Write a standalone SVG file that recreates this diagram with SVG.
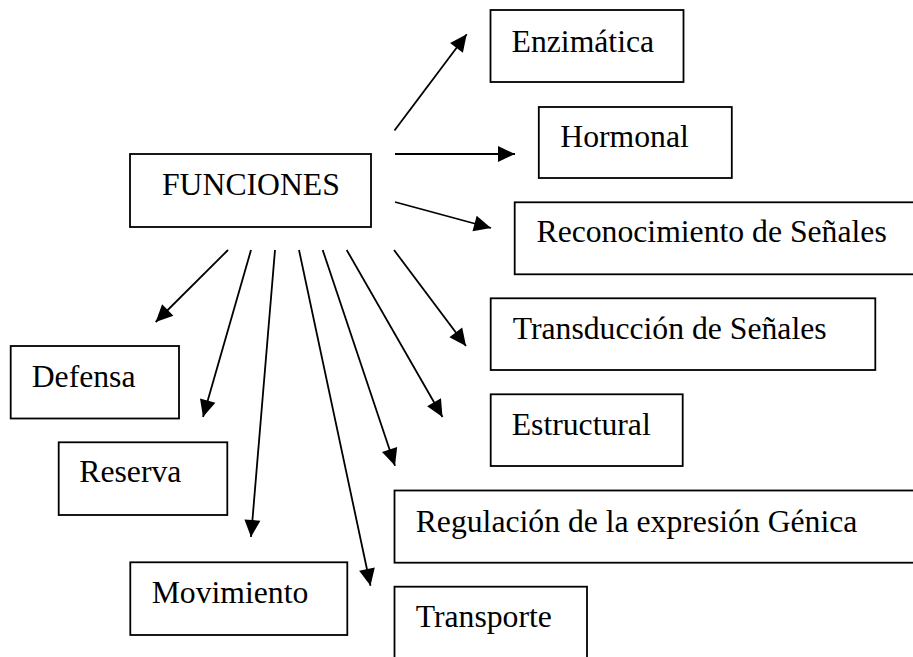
<svg xmlns="http://www.w3.org/2000/svg" width="913" height="657" viewBox="0 0 913 657">
<style>
.box{fill:#fff;stroke:#000;stroke-width:1.8}
.lbl{font-family:"Liberation Serif","Times New Roman",serif;font-size:31.7px;fill:#000}
.con{stroke:#000;stroke-width:1.8;fill:none;marker-end:url(#ah)}
</style>
<defs>
<marker id="ah" markerUnits="userSpaceOnUse" markerWidth="19" markerHeight="17" refX="17" refY="8" orient="auto" overflow="visible">
<path d="M0,0 L17,8 L0,16 Z" fill="#000"/>
</marker>
</defs>
<rect width="913" height="657" fill="#fff"/>
<g id="connectors">
<line class="con" x1="394.5" y1="130.5" x2="466.7" y2="34.3"/>
<line class="con" x1="395" y1="154" x2="515" y2="154"/>
<line class="con" x1="395" y1="202" x2="491" y2="228"/>
<line class="con" x1="394" y1="250" x2="466" y2="346"/>
<line class="con" x1="346.7" y1="250" x2="442.5" y2="417"/>
<line class="con" x1="322.7" y1="250" x2="395" y2="465.7"/>
<line class="con" x1="299" y1="250" x2="370.5" y2="585.7"/>
<line class="con" x1="275" y1="250" x2="251" y2="537"/>
<line class="con" x1="251" y1="250" x2="203" y2="417"/>
<line class="con" x1="228" y1="250" x2="155.7" y2="322"/>
</g>
<g id="funciones"><rect class="box" x="130" y="154" width="241" height="73"/><text class="lbl" x="162" y="195">FUNCIONES</text></g>
<g id="enzimatica"><rect class="box" x="490.5" y="10" width="193" height="72"/><text class="lbl" x="511.6" y="51.7">Enzimática</text></g>
<g id="hormonal"><rect class="box" x="538.8" y="107" width="193" height="71"/><text class="lbl" x="560.3" y="146.7">Hormonal</text></g>
<g id="reconocimiento"><rect class="box" x="514.7" y="202.3" width="410" height="72"/><text class="lbl" x="536.5" y="242.3">Reconocimiento de Señales</text></g>
<g id="transduccion"><rect class="box" x="490.7" y="298.3" width="384.6" height="71.7"/><text class="lbl" x="512.7" y="339.3">Transducción de Señales</text></g>
<g id="estructural"><rect class="box" x="490.7" y="394.3" width="192" height="71.7"/><text class="lbl" x="511.7" y="435">Estructural</text></g>
<g id="defensa"><rect class="box" x="10.7" y="346" width="168.3" height="72.5"/><text class="lbl" x="31.7" y="387">Defensa</text></g>
<g id="reserva"><rect class="box" x="58.7" y="442.3" width="168.6" height="72.7"/><text class="lbl" x="79.3" y="482.3">Reserva</text></g>
<g id="movimiento"><rect class="box" x="130.3" y="562.3" width="217" height="72.7"/><text class="lbl" x="151.7" y="602.7">Movimiento</text></g>
<g id="regulacion"><rect class="box" x="394.5" y="490.5" width="530" height="72.2"/><text class="lbl" x="415.7" y="531.7">Regulación de la expresión Génica</text></g>
<g id="transporte"><rect class="box" x="394.5" y="586.7" width="192.5" height="90"/><text class="lbl" x="415.7" y="626.7">Transporte</text></g>
</svg>
